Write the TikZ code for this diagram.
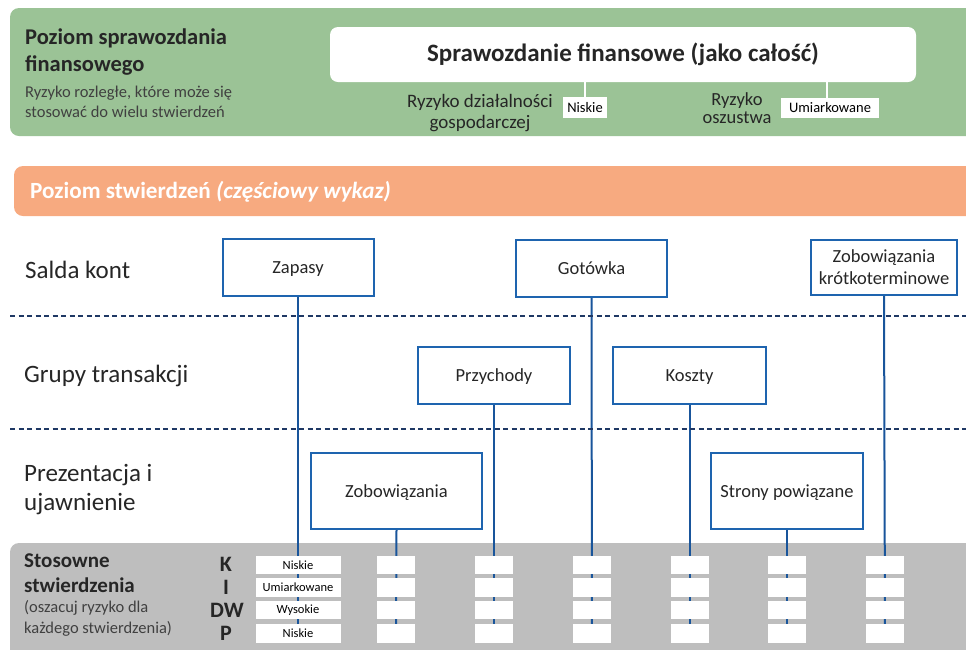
\documentclass[tikz,border=0pt]{standalone}
\usepackage{fontspec}
\setmainfont{Carlito}
\definecolor{bandgreen}{RGB}{155,195,150}
\definecolor{bandorange}{RGB}{247,170,128}
\definecolor{bandgray}{RGB}{190,190,190}
\definecolor{boxblue}{RGB}{30,100,175}
\definecolor{linkblue}{RGB}{25,85,155}
\definecolor{navy}{RGB}{31,56,100}
\definecolor{txt}{RGB}{38,38,38}
\definecolor{subtxt}{RGB}{64,64,64}
\pgfdeclarelayer{back}
\pgfdeclarelayer{mid}
\pgfsetlayers{back,mid,main}
\tikzset{
  entity/.style={draw=boxblue, line width=2pt, fill=white, text=txt, inner sep=0pt, align=center, font=\fontsize{18.5}{22}\selectfont},
  cell/.style={fill=white, inner sep=0pt, minimum height=18.5pt, text=black},
  celltxt/.style={inner sep=0pt, text=black, font=\fontsize{12.5}{14}\selectfont},
  tag/.style={fill=white, inner sep=0pt, text=black, font=\fontsize{14.5}{16}\selectfont},
  conn/.style={draw=linkblue, line width=2pt},
  wconn/.style={draw=white, line width=1.5pt},
  sep/.style={draw=navy, line width=2pt, dash pattern=on 5pt off 3.5pt},
  rowlbl/.style={anchor=west, text=txt, inner sep=0pt, align=left, font=\fontsize{25}{29}\selectfont},
  letter/.style={text=txt, inner sep=0pt, font=\fontsize{22}{24}\selectfont\bfseries}
}
\begin{document}
\begin{tikzpicture}[x=1pt,y=-1pt]
\useasboundingbox (0,0) rectangle (966,649);
\clip (0,0) rectangle (966,649);

% bands
\begin{pgfonlayer}{back}
\fill[bandgreen, rounded corners=9pt] (10,8) rectangle (985,136);
\fill[bandorange, rounded corners=9pt] (14,166) rectangle (985,216);
\fill[bandgray, rounded corners=9pt] (10,543) rectangle (985,670);
\end{pgfonlayer}

% financial statement level
\node[anchor=north west, inner sep=0pt, align=left, text=txt, font=\fontsize{22.5}{27}\selectfont\bfseries] (fslvl) at (25,29) {Poziom sprawozdania\\finansowego};
\node[anchor=north west, inner sep=0pt, align=left, text=subtxt, font=\fontsize{16.5}{19.5}\selectfont] (fsdesc) at (25,86) {Ryzyko rozległe, które może się\\stosować do wielu stwierdzeń};
\node[fill=white, rounded corners=8pt, minimum width=586pt, minimum height=55pt, inner sep=0pt, text=txt, font=\fontsize{25}{28}\selectfont\bfseries] (fsall) at (623,54.5) {Sprawozdanie finansowe (jako całość)};
\node[align=center, inner sep=0pt, text=txt, font=\fontsize{19}{20.5}\selectfont] (bizrisk) at (480,113) {Ryzyko działalności\\gospodarczej};
\node[tag, minimum width=44pt, minimum height=21pt] (biztag) at (585,107.5) {Niskie};
\node[align=center, inner sep=0pt, text=txt, font=\fontsize{18.5}{18}\selectfont] (fraud) at (737,108.5) {Ryzyko\\oszustwa};
\node[tag, minimum width=98pt, minimum height=20pt] (fraudtag) at (830,108) {Umiarkowane};
\begin{pgfonlayer}{mid}
\draw[wconn] (biztag.north) -- (biztag.north |- fsall.south);
\draw[wconn] ([xshift=-3pt]fraudtag.north) -- ([xshift=-3pt]fraudtag.north |- fsall.south);
\end{pgfonlayer}

% assertion level
\node[anchor=west, inner sep=0pt, text=white, font=\fontsize{23.2}{25}\selectfont\bfseries] (aslvl) at (30,192) {Poziom stwierdzeń \textit{(częściowy wykaz)}};

% row labels
\node[rowlbl] (r1) at (25,270) {Salda kont};
\node[rowlbl] (r2) at (24,376) {Grupy transakcji};
\node[rowlbl] (r3) at (24,490) {Prezentacja i\\ujawnienie};

% separators
\coordinate (s1a) at (10,316); \coordinate (s1b) at (966,316);
\coordinate (s2a) at (10,429); \coordinate (s2b) at (966,429);
\draw[sep] (s1a) -- (s1b);
\draw[sep] (s2a) -- (s2b);

% entity boxes
\node[entity, minimum width=151pt, minimum height=57pt, text depth=-1.5pt] (zap) at (298,267.5) {Zapasy};
\node[entity, minimum width=151pt, minimum height=57pt, text depth=-1.5pt] (got) at (591.5,268) {Gotówka};
\node[entity, minimum width=146pt, minimum height=55pt] (zk) at (884,267) {Zobowiązania\\krótkoterminowe};
\node[entity, minimum width=152pt, minimum height=57pt, text depth=-1.5pt] (prz) at (494,375.5) {Przychody};
\node[entity, minimum width=153pt, minimum height=57pt, text depth=-1.5pt] (kos) at (689.5,375.5) {Koszty};
\node[entity, minimum width=171pt, minimum height=76pt, text depth=-1.5pt] (zob) at (396.5,491) {Zobowiązania};
\node[entity, minimum width=152pt, minimum height=76pt, text depth=-1.5pt] (str) at (787,491) {Strony powiązane};

% assertions block
\node[anchor=north west, inner sep=0pt, align=left, text=txt, font=\fontsize{21}{24.5}\selectfont\bfseries] (stos) at (24,554) {Stosowne\\stwierdzenia};
\node[anchor=north west, inner sep=0pt, align=left, text=subtxt, font=\fontsize{16.5}{21.5}\selectfont] (osz) at (24,600) {(oszacuj ryzyko dla\\każdego stwierdzenia)};
\node[letter] (lK) at (226,564) {K};
\node[letter] (lI) at (226,587) {I};
\node[letter] (lDW) at (227,610) {DW};
\node[letter] (lP) at (226,633.5) {P};

% cells
\foreach \c/\x/\w in {1/298/85, 2/396/38, 3/494/38, 4/592/38, 5/689.5/38, 6/787/38, 7/885/38}{
  \node[cell, minimum width=\w pt] (c\c a) at (\x,565) {};
  \node[cell, minimum width=\w pt] (c\c b) at (\x,587.5) {};
  \node[cell, minimum width=\w pt] (c\c c) at (\x,610) {};
  \node[cell, minimum width=\w pt] (c\c d) at (\x,633.5) {};
}
\node[celltxt] (t1) at (c1a) {Niskie};
\node[celltxt] (t2) at (c1b) {Umiarkowane};
\node[celltxt] (t3) at (c1c) {Wysokie};
\node[celltxt] (t4) at (c1d) {Niskie};

% connectors
\begin{pgfonlayer}{mid}
\draw[conn] (zap.south) -- (c1d.center);
\draw[conn] (zob.south) -- (c2d.center);
\draw[conn] (prz.south) -- (c3d.center);
\draw[conn] (got.south) -- (c4d.center);
\draw[conn] (kos.south) -- (c5d.center);
\draw[conn] (str.south) -- (c6d.center);
\draw[conn] (zk.south) -- (c7d.center);
\end{pgfonlayer}
\end{tikzpicture}
\end{document}
